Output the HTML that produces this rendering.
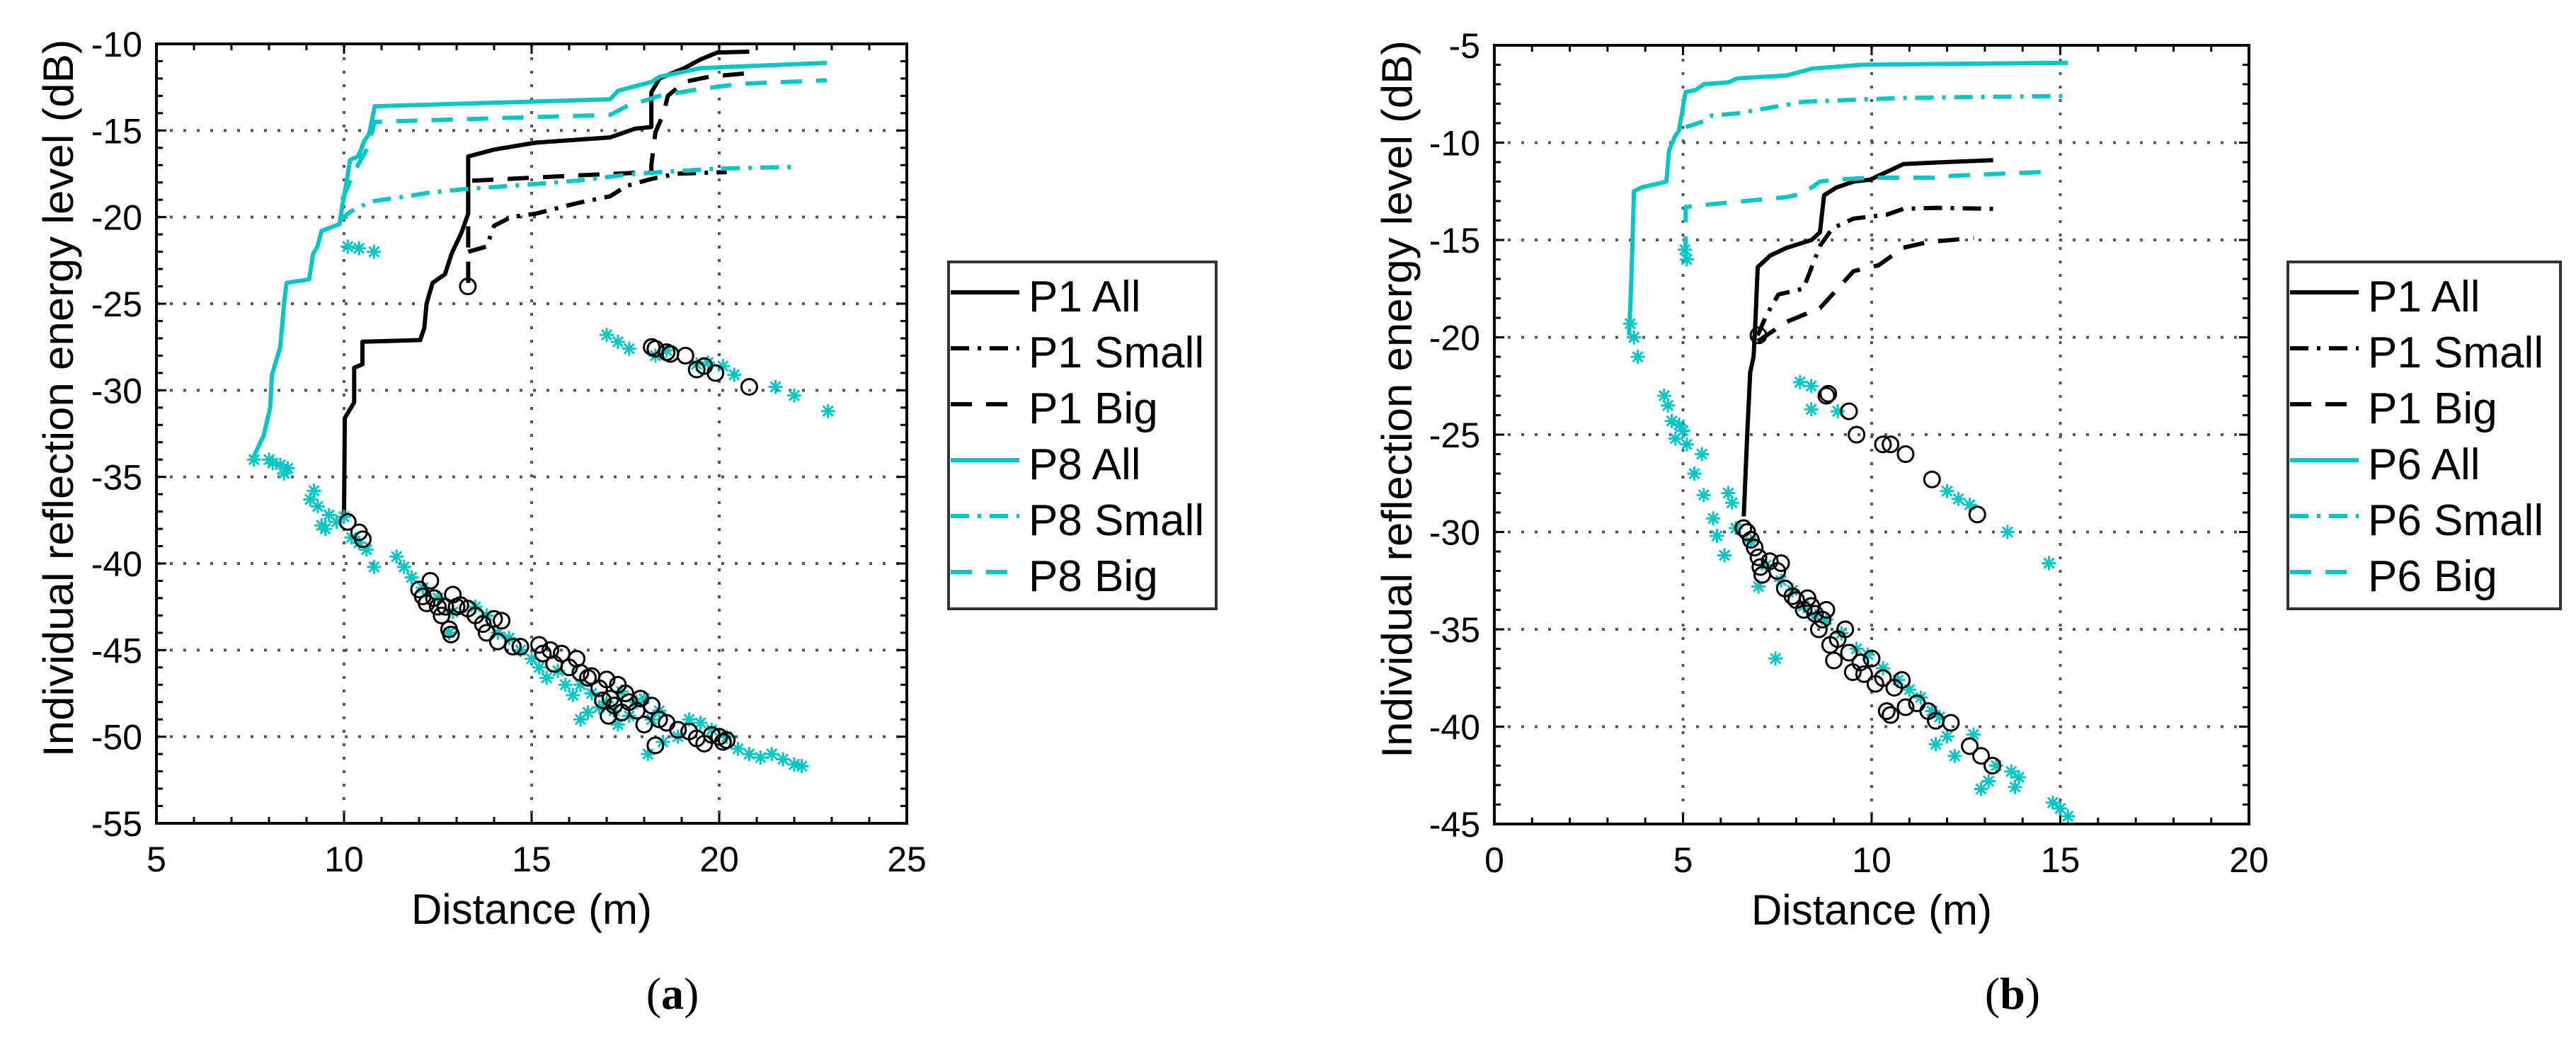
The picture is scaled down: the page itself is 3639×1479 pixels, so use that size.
<!DOCTYPE html>
<html><head><meta charset="utf-8"><style>
html,body{margin:0;padding:0;background:#fff;}
svg{display:block;font-family:"Liberation Sans",sans-serif;}
</style></head><body>
<svg id="fig" width="3639" height="1479" viewBox="0 0 3639 1479" xmlns="http://www.w3.org/2000/svg"></svg>
<script>
// ---------- Panel (a) data ----------
const aXTicks = [5,10,15,20,25];
const aYTicks = [-10,-15,-20,-25,-30,-35,-40,-45,-50,-55];
const aP1AllX = [10.0,10.02,10.27,10.27,10.49,10.49,12.03,12.14,12.2,12.36,12.69,12.87,13.13,13.31,13.31,14.01,15.11,17.09,17.75,18.19,18.19,18.41,19.07,19.5,19.95,20.8];
const aP1AllY = [-37.2,-31.6,-30.7,-28.7,-28.5,-27.2,-27.1,-26.4,-25,-23.8,-23.3,-22.1,-20.9,-19.8,-16.5,-16.1,-15.7,-15.4,-14.9,-14.8,-12.8,-12,-11.4,-10.9,-10.5,-10.45];
const aP1SmallX = [13.31,13.8,14.0,14.45,15.11,16.2,17.09,17.53,18.19,18.85,20.2];
const aP1SmallY = [-22.0,-21.7,-20.5,-20.0,-19.8,-19.2,-18.8,-18.2,-17.8,-17.5,-17.4];
const aP1BigX = [13.31,13.31,13.4,16.2,18.19,18.19,18.3,18.52,18.63,19.07,19.72,20.71];
const aP1BigY = [-23.8,-17.9,-17.9,-17.6,-17.4,-17.0,-15.1,-14.0,-13.0,-12.2,-11.9,-11.7];
const aP8AllX = [7.53,7.86,8.03,8.08,8.3,8.41,8.47,9.07,9.18,9.29,9.4,9.88,9.95,10.05,10.16,10.38,10.54,10.67,10.82,17.09,17.31,18.19,18.41,19.5,20.6,22.87];
const aP8AllY = [-34.1,-32.6,-31.0,-29.1,-27.5,-24.8,-23.8,-23.6,-22.1,-21.7,-20.8,-20.4,-19.4,-18.2,-16.7,-16.5,-15.6,-15.2,-13.6,-13.2,-12.7,-12.2,-11.9,-11.4,-11.3,-11.1];
const aP8SmallX = [9.88,10.16,10.71,11.37,12.25,13.13,14.45,16.2,17.75,18.85,19.95,22.04];
const aP8SmallY = [-20.2,-19.7,-19.1,-18.9,-18.6,-18.4,-18.2,-17.9,-17.5,-17.35,-17.2,-17.1];
const aP8BigX = [9.95,10.27,10.6,10.82,17.09,17.53,18.41,19.5,20.6,22.87];
const aP8BigY = [-19.0,-17.4,-16.1,-14.5,-14.1,-13.6,-13.0,-12.6,-12.3,-12.1];
const aCircX = [10.1,10.4,10.5,12.0,12.1,12.2,12.3,12.4,12.5,12.6,12.7,12.8,12.85,12.9,13,13.1,13.3,13.5,13.7,13.8,14,14.1,14.2,14.5,14.7,15.2,15.3,15.5,15.6,15.8,16,16.2,16.3,16.5,16.6,16.8,17,17.1,17.2,17.3,17.4,17.5,17.6,17.8,17.9,18,18.2,18.3,18.4,18.6,18.9,19.2,19.4,19.6,19.8,20,20.1,20.2,17.05,16.9,13.3,18.2,18.3,18.6,18.7,19.1,19.4,19.6,19.9,20.8];
const aCircY = [-37.6,-38.2,-38.6,-41.5,-41.9,-42.3,-41,-42,-42.5,-43,-42.5,-43.8,-44.1,-41.8,-42.5,-42.4,-42.6,-43,-43.5,-44,-43.2,-44.5,-43.3,-44.8,-44.8,-44.7,-45.2,-45,-45.8,-45.2,-46,-45.5,-46.3,-46.6,-46.5,-47.2,-46.7,-47.8,-48.2,-47,-48.6,-47.5,-48,-48.5,-47.8,-49.3,-48.2,-50.5,-49,-49.2,-49.6,-49.7,-50.1,-50.4,-49.9,-50,-50.3,-50.2,-48.8,-47.9,-24,-27.5,-27.6,-27.8,-27.9,-28,-28.8,-28.6,-29,-29.8];
const aStarX = [7.6,8.0,8.1,8.3,8.4,8.5,9.1,9.2,9.3,9.4,9.5,9.6,9.8,10,10.2,10.4,10.6,10.8,11.4,11.6,11.8,12.1,12.5,12.9,12.8,13.5,13.8,14.1,14.4,14.7,15,15.2,15.4,15.7,15.9,16.1,16.3,16.6,16.8,17,17.2,17.4,17.6,17.8,18,18.2,18.4,18.1,18.5,18.9,19.2,19.5,19.8,20.2,20.5,20.8,21.1,21.4,21.7,22,22.2,10.1,10.4,10.8,17,17.3,17.6,18.3,18.6,19.4,19.7,20.1,20.4,21.5,22,22.9,16.3,16.5,17.3];
const aStarY = [-34,-34,-34.2,-34.3,-34.8,-34.5,-36.3,-35.8,-36.7,-37.8,-38,-37.2,-37.6,-37.3,-38.5,-38.8,-39.2,-40.2,-39.6,-40.2,-40.8,-41.4,-42,-42.8,-44,-42.5,-43,-44,-44.3,-45,-45.5,-46,-46.6,-46.2,-47,-47.6,-47,-47.5,-48.3,-48,-48.5,-47.4,-48.8,-48,-47.8,-49,-48.5,-51,-50.3,-50,-49,-49.2,-49.6,-50,-50.7,-51,-51.2,-51,-51.3,-51.6,-51.7,-21.7,-21.8,-22,-26.8,-27.2,-27.6,-28,-27.7,-28.5,-28.4,-28.6,-29.1,-29.8,-30.3,-31.2,-49,-48.6,-49.3];
const aLegend = ["P1 All","P1 Small","P1 Big","P8 All","P8 Small","P8 Big"];

// ---------- Panel (b) data ----------
const bXTicks = [0,5,10,15,20];
const bYTicks = [-5,-10,-15,-20,-25,-30,-35,-40,-45];
const bP1AllX = [6.61,6.7,6.78,6.87,6.92,6.98,7.2,7.31,7.75,8.41,8.63,8.74,9.07,9.52,9.96,10.4,10.84,11.94,13.22];
const bP1AllY = [-29.2,-25.1,-21.8,-21.0,-19.2,-16.4,-16.0,-15.8,-15.4,-15.0,-14.6,-12.7,-12.3,-12.0,-11.9,-11.5,-11.1,-11.0,-10.9];
const bP1SmallX = [6.98,7.2,7.53,8.19,8.41,8.63,8.96,9.52,10.4,10.84,11.72,13.26];
const bP1SmallY = [-19.9,-18.9,-17.8,-17.5,-16.4,-15.3,-14.4,-13.9,-13.7,-13.4,-13.35,-13.4];
const bP1BigX = [6.98,7.75,8.63,8.96,9.52,10.18,10.84,11.5,12.71];
const bP1BigY = [-20.2,-19.2,-18.5,-17.8,-16.6,-16.3,-15.4,-15.1,-14.9];
const bP6AllX = [3.57,3.63,3.7,3.9,4.56,4.63,4.78,4.89,5.07,5.33,5.55,6.21,6.43,7.75,8.41,9.74,12.16,15.2];
const bP6AllY = [-19.9,-17.1,-12.5,-12.3,-12.0,-10.4,-9.7,-9.4,-7.4,-7.3,-7.0,-6.9,-6.7,-6.55,-6.2,-6.0,-5.95,-5.9];
const bP6SmallX = [5.07,5.55,5.77,6.43,7.31,8.19,9.52,10.84,15.2];
const bP6SmallY = [-9.2,-8.9,-8.6,-8.5,-8.2,-7.9,-7.8,-7.7,-7.6];
const bP6BigX = [5.07,5.07,5.55,7.75,8.19,8.63,9.07,9.96,11.72,12.16,14.63];
const bP6BigY = [-15.9,-13.3,-13.2,-12.8,-12.6,-12.0,-11.9,-11.8,-11.8,-11.7,-11.5];
const bCircX = [6.6,6.7,6.8,6.9,7,7.05,7.1,7.0,7.3,7.5,7.6,7.7,7.9,8.0,8.2,8.3,8.4,8.5,8.6,8.7,8.8,8.9,9.0,9.1,9.3,9.4,9.5,9.7,9.8,10,10.1,10.3,10.4,10.5,10.6,10.8,10.9,11.2,11.5,11.7,12.1,12.6,12.9,13.2,8.8,9.4,9.6,10.3,10.5,10.9,11.6,12.8,8.85];
const bCircY = [-29.8,-30,-30.4,-30.8,-31.3,-31.8,-32.2,-19.9,-31.5,-32,-31.6,-32.9,-33.3,-33.5,-34,-33.4,-33.8,-34.2,-35,-34.5,-34,-35.8,-36.6,-35.5,-35,-36.2,-37.2,-36.7,-37.3,-36.5,-37.8,-37.5,-39.2,-39.4,-38,-37.6,-39,-38.8,-39.2,-39.7,-39.8,-41,-41.5,-42,-23,-23.8,-25,-25.5,-25.5,-26,-27.3,-29.1,-22.9];
const bStarX = [3.6,3.7,3.8,5.05,5.1,4.5,4.6,4.7,4.8,4.9,5.0,5.1,5.3,5.5,5.55,5.8,5.9,6.1,6.2,6.3,6.4,6.8,7,7.2,7.45,7.6,7.9,8.2,8.5,8.8,9.2,9.6,9.9,10.3,10.7,11,11.3,11.6,11.8,11.7,12,12.2,12.7,12.9,13.1,13.3,13.7,13.9,13.8,14.8,15,15.2,8.1,8.4,8.4,9.1,12.0,12.3,12.6,13.6,14.7];
const bStarY = [-19.3,-20,-21,-15.5,-16,-23,-23.5,-24.3,-25.2,-24.5,-24.8,-25.5,-27,-26,-28.1,-29.3,-30.2,-31.2,-28,-28.5,-29.8,-30.5,-32.8,-31.7,-36.5,-32.5,-33,-33.8,-34.3,-34.5,-35.2,-36,-36.3,-37,-37.6,-38.1,-38.5,-39.2,-39.5,-40.9,-40.5,-41.5,-40.4,-43.2,-42.8,-42,-42.3,-42.6,-43.1,-43.9,-44.2,-44.6,-22.3,-22.5,-23.7,-23.8,-27.9,-28.3,-28.6,-30,-31.6];
const bLegend = ["P1 All","P1 Small","P1 Big","P6 All","P6 Small","P6 Big"];

const NS = "http://www.w3.org/2000/svg";
const svg = document.getElementById('fig');
const CYAN = "#00c8c8";
function mk(tag, attrs, parent){ const e=document.createElementNS(NS,tag); for(const k in attrs) e.setAttribute(k,attrs[k]); (parent||svg).appendChild(e); return e; }

function panel(p){
  const g = mk('g',{});
  
  
  const L=p.L,R=p.R,T=p.T,B=p.B;
  const x0=p.xTicks[0], x1=p.xTicks[p.xTicks.length-1];
  const y0=p.yTicks[0], y1=p.yTicks[p.yTicks.length-1];
  const sx = v => L+(v-x0)/(x1-x0)*(R-L);
  const sy = v => T+(y0-v)/(y0-y1)*(B-T);
  const grid = mk('g',{},g);
  
  
  p.xTicks.slice(1,-1).forEach(v=>mk('line',{x1:sx(v),x2:sx(v),y1:T,y2:B,stroke:'#555','stroke-width':4,'stroke-dasharray':'4,15'},grid));
  p.yTicks.slice(1,-1).forEach(v=>mk('line',{x1:L,x2:R,y1:sy(v),y2:sy(v),stroke:'#555','stroke-width':4,'stroke-dasharray':'4,15'},grid));
  for(let v=y1; v<=y0; v+=1){ const y=sy(v); const maj=(v%5===0);
    mk('line',{x1:L,x2:L+(maj?14:9),y1:y,y2:y,stroke:'#000','stroke-width':3},g);
    mk('line',{x1:R,x2:R-(maj?14:9),y1:y,y2:y,stroke:'#000','stroke-width':3},g); }
  for(let v=x0; v<=x1; v+=1){ const x=sx(v); const maj=(v%5===0);
    mk('line',{x1:x,x2:x,y1:B,y2:B-(maj?14:9),stroke:'#000','stroke-width':3},g);
    mk('line',{x1:x,x2:x,y1:T,y2:T+(maj?14:9),stroke:'#000','stroke-width':3},g); }
  const series=[
    [p.s[0][0],p.s[0][1],'#000',''],[p.s[1][0],p.s[1][1],'#000','26,12,5,12'],[p.s[2][0],p.s[2][1],'#000','30,20'],
    [p.s[3][0],p.s[3][1],CYAN,''],[p.s[4][0],p.s[4][1],CYAN,'26,12,5,12'],[p.s[5][0],p.s[5][1],CYAN,'30,20']];
  series.forEach((s,i)=>{
    const pts=s[0].map((x,j)=>sx(x).toFixed(1)+','+sy(s[1][j]).toFixed(1)).join(' ');
    const pl=mk('polyline',{points:pts,fill:'none',stroke:s[2],'stroke-width':6,'stroke-dasharray':s[3],'stroke-linejoin':'round'},g);
    
    
  });
  const sg=mk('g',{stroke:CYAN,'stroke-width':3},g);
  
  
  p.starX.forEach((x,j)=>{ const cx=sx(x), cy=sy(p.starY[j]), r=10;
    let d='';
    for(let k=0;k<4;k++){ const a=k*Math.PI/4; d+=`M${cx-r*Math.cos(a)},${cy-r*Math.sin(a)}L${cx+r*Math.cos(a)},${cy+r*Math.sin(a)}`; }
    const pa=mk('path',{d:d},sg);
    
    
  });
  const cg=mk('g',{stroke:'#000','stroke-width':3,fill:'none'},g);
  
  
  p.circX.forEach((x,j)=>{
    const c=mk('circle',{cx:sx(x),cy:sy(p.circY[j]),r:11},cg);
    
    
  });
  const fr=mk('rect',{x:L,y:T,width:R-L,height:B-T,fill:'none',stroke:'#000','stroke-width':4},g);
  
  
  p.xTicks.forEach(v=>{ const t=mk('text',{x:sx(v),y:B+68,'font-size':50,'text-anchor':'middle'},g); t.textContent=v;
      });
  p.yTicks.forEach(v=>{ const t=mk('text',{x:L-20,y:sy(v)+18,'font-size':50,'text-anchor':'end'},g); t.textContent=v;
      });
  const xl=mk('text',{x:(L+R)/2,y:B+142,'font-size':60,'text-anchor':'middle'},g); xl.textContent='Distance (m)';
   
  const ylx=p.ylx, yly=(T+B)/2-50;
  const yl=mk('text',{x:ylx,y:yly,'font-size':60,'text-anchor':'middle',transform:`rotate(-90 ${ylx} ${yly})`,textLength:1014,lengthAdjust:'spacingAndGlyphs',dy:21},g);
  yl.textContent='Individual reflection energy level (dB)';
   
  const cap=mk('text',{x:p.capX,y:1425,'font-size':64,'text-anchor':'middle','font-family':'Liberation Serif, serif'},g);
  cap.innerHTML='(<tspan font-weight="bold">'+p.cap+'</tspan>)';
   
  const lg=mk('g',{},g);
  
  
  mk('rect',{x:p.legX,y:370,width:p.legW,height:490,fill:'#fff',stroke:'#333','stroke-width':4},lg);
  const styles=[['#000',''],['#000','26,12,5,12'],['#000','30,20'],[CYAN,''],[CYAN,'26,12,5,12'],[CYAN,'30,20']];
  p.legend.forEach((lab,i)=>{ const by=440+i*79;
    mk('line',{x1:p.legX+3,x2:p.legX+100,y1:by-27,y2:by-27,stroke:styles[i][0],'stroke-width':6,'stroke-dasharray':styles[i][1]},lg);
    const t=mk('text',{x:p.legX+113,y:by,'font-size':62},lg); t.textContent=lab;
     
  });
}

panel({name:'panel-a',L:221,R:1281,T:62,B:1163,xTicks:aXTicks,yTicks:aYTicks,
  s:[[aP1AllX,aP1AllY],[aP1SmallX,aP1SmallY],[aP1BigX,aP1BigY],[aP8AllX,aP8AllY],[aP8SmallX,aP8SmallY],[aP8BigX,aP8BigY]],
  circX:aCircX,circY:aCircY,starX:aStarX,starY:aStarY,legend:aLegend,legX:1340,legW:378,ylx:82,capX:950,cap:'a'});
panel({name:'panel-b',L:2111,R:3177,T:64,B:1164,xTicks:bXTicks,yTicks:bYTicks,
  s:[[bP1AllX,bP1AllY],[bP1SmallX,bP1SmallY],[bP1BigX,bP1BigY],[bP6AllX,bP6AllY],[bP6SmallX,bP6SmallY],[bP6BigX,bP6BigY]],
  circX:bCircX,circY:bCircY,starX:bStarX,starY:bStarY,legend:bLegend,legX:3232,legW:385,ylx:1973,capX:2843,cap:'b'});
</script>
</body></html>
